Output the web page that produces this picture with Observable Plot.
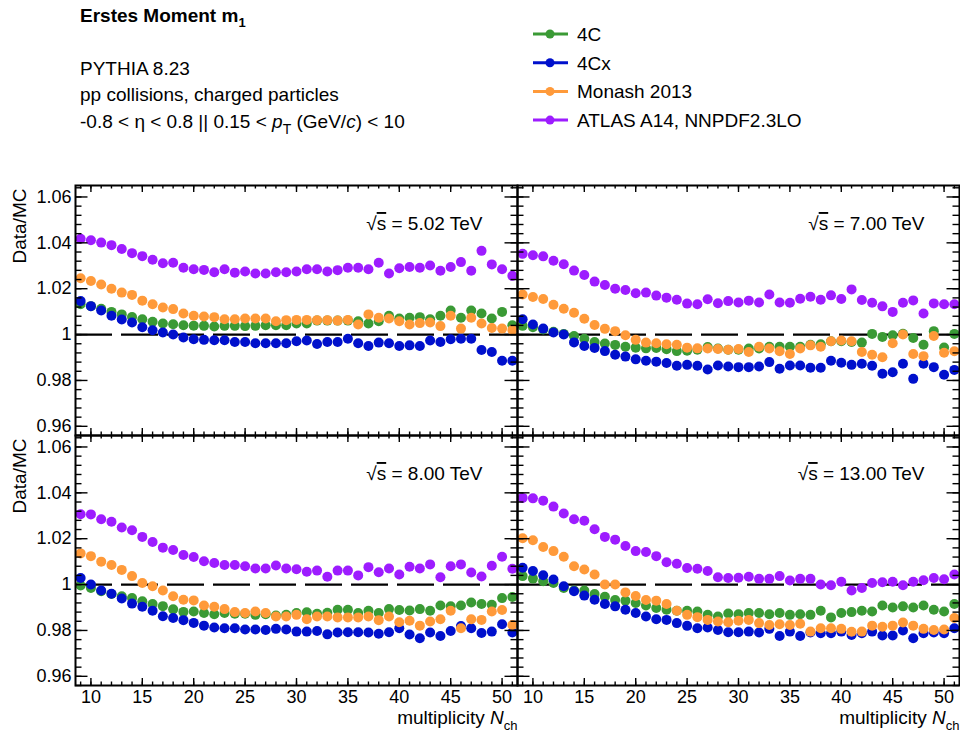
<!DOCTYPE html>
<html><head><meta charset="utf-8">
<script src="https://cdn.jsdelivr.net/npm/d3@7"></script>
<script src="https://cdn.jsdelivr.net/npm/@observablehq/plot@0.6"></script>
<style>
body{margin:0;background:#fff;font-family:"Liberation Sans",Arial,sans-serif;}
#chart{width:960px;height:733px;}
#chart svg{display:block;}
</style></head><body><div id="chart"></div>
<script>
// ---------- data ----------
const nch = [9,10,11,12,13,14,15,16,17,18,19,20,21,22,23,24,25,26,27,28,29,30,31,32,33,34,35,36,37,38,39,40,41,42,43,44,45,46,47,48,49,50,51];
const seriesNames = ["4C", "4Cx", "Monash 2013", "ATLAS A14, NNPDF2.3LO"];
const seriesColors = ["#3a9a35", "#0010cc", "#ff9a3a", "#9d1cff"];
const energies = ["5.02", "7.00", "8.00", "13.00"];
const panelCol = [0, 1, 0, 1];
const panelRow = [0, 0, 1, 1];
const yTickValues = [0.96, 0.98, 1, 1.02, 1.04, 1.06];
const yTickLabels = ["0.96", "0.98", "1", "1.02", "1.04", "1.06"];
const xTickValues = [10, 15, 20, 25, 30, 35, 40, 45, 50];
const xTickLabels = ["10", "15", "20", "25", "30", "35", "40", "45", "50"];

// 5.02 TeV
const v502_4C = [1.0132,1.0124,1.0113,1.0099,1.0088,1.0077,1.0067,1.0056,1.0048,1.0045,1.0041,1.0039,1.0038,1.0035,1.0038,1.0038,1.0037,1.0038,1.0041,1.0041,
  1.0041,1.0048,1.0048,1.0061,1.0061,1.0061,1.0061,1.0058,1.0048,1.0058,1.0082,1.0070,1.0073,1.0076,1.0067,1.0082,1.0105,1.0073,1.0105,1.0092,1.0070,1.0099,1.0041];
const v502_4Cx = [1.0146,1.0124,1.0105,1.0082,1.0066,1.0053,1.0032,1.0019,1.0009,1.0000,0.9987,0.9980,0.9977,0.9975,0.9975,0.9968,0.9968,0.9962,0.9962,0.9962,
  0.9962,0.9971,0.9974,0.9959,0.9968,0.9968,0.9982,0.9962,0.9950,0.9965,0.9962,0.9950,0.9953,0.9950,0.9974,0.9968,0.9980,0.9982,0.9982,0.9933,0.9924,0.9886,0.9886];
const v502_Monash = [1.0246,1.0234,1.0218,1.0200,1.0183,1.0173,1.0148,1.0132,1.0118,1.0111,1.0092,1.0082,1.0079,1.0076,1.0067,1.0067,1.0070,1.0070,1.0070,1.0058,
  1.0063,1.0064,1.0064,1.0063,1.0063,1.0061,1.0064,1.0044,1.0088,1.0073,1.0070,1.0058,1.0044,1.0050,1.0053,1.0037,1.0082,1.0026,1.0073,1.0048,1.0029,1.0026,1.0020];
const v502_A14 = [1.0418,1.0411,1.0401,1.0390,1.0373,1.0355,1.0342,1.0326,1.0311,1.0313,1.0291,1.0285,1.0282,1.0272,1.0285,1.0270,1.0275,1.0266,1.0266,1.0272,
  1.0272,1.0275,1.0285,1.0285,1.0275,1.0281,1.0291,1.0291,1.0285,1.0313,1.0266,1.0289,1.0295,1.0291,1.0301,1.0278,1.0295,1.0316,1.0278,1.0365,1.0306,1.0285,1.0256];

// 7.00 TeV
const v700_4C = [1.0038,1.0032,1.0022,1.0012,1.0003,0.9994,0.9982,0.9968,0.9961,0.9955,0.9947,0.9943,0.9940,0.9942,0.9936,0.9928,0.9930,0.9934,0.9946,0.9939,0.9934,0.9934,0.9939,
  0.9939,0.9947,0.9947,0.9947,0.9947,0.9956,0.9958,0.9971,0.9971,0.9968,0.9965,1.0003,0.9990,0.9997,1.0004,0.9985,0.9956,1.0015,0.9944,1.0003];
const v700_4Cx = [1.0067,1.0044,1.0026,1.0009,1.0000,0.9966,0.9950,0.9942,0.9928,0.9912,0.9904,0.9892,0.9886,0.9882,0.9876,0.9864,0.9868,0.9864,0.9848,0.9865,0.9861,0.9858,0.9858,
  0.9861,0.9880,0.9851,0.9865,0.9865,0.9855,0.9855,0.9886,0.9877,0.9868,0.9873,0.9864,0.9829,0.9836,0.9873,0.9807,0.9873,0.9858,0.9825,0.9846];
const v700_Monash = [1.0175,1.0164,1.0155,1.0130,1.0113,1.0095,1.0069,1.0042,1.0025,1.0015,0.9997,0.9977,0.9965,0.9962,0.9958,0.9956,0.9943,0.9940,0.9939,0.9937,0.9934,0.9937,0.9924,
  0.9947,0.9939,0.9927,0.9915,0.9939,0.9953,0.9947,0.9971,0.9974,0.9971,0.9924,0.9912,0.9901,0.9962,1.0000,0.9915,0.9906,0.9994,0.9921,0.9927];
const v700_A14 = [1.0352,1.0346,1.0341,1.0322,1.0307,1.0279,1.0260,1.0231,1.0216,1.0200,1.0194,1.0180,1.0183,1.0170,1.0161,1.0152,1.0135,1.0132,1.0154,1.0137,1.0146,1.0140,1.0148,
  1.0140,1.0175,1.0140,1.0139,1.0156,1.0165,1.0152,1.0171,1.0155,1.0197,1.0151,1.0139,1.0123,1.0099,1.0139,1.0149,1.0092,1.0136,1.0132,1.0132];

// 8.00 TeV
const v800_4C = [0.9996,0.9985,0.9971,0.9959,0.9949,0.9941,0.9927,0.9915,0.9906,0.9892,0.9881,0.9883,0.9876,0.9871,0.9876,0.9873,0.9873,0.9868,0.9871,0.9865,
  0.9868,0.9876,0.9879,0.9873,0.9877,0.9890,0.9890,0.9876,0.9886,0.9876,0.9893,0.9889,0.9887,0.9893,0.9886,0.9909,0.9905,0.9909,0.9922,0.9915,0.9912,0.9941,0.9946];
const v800_4Cx = [1.0029,1.0000,0.9974,0.9960,0.9939,0.9917,0.9903,0.9886,0.9862,0.9854,0.9845,0.9833,0.9821,0.9813,0.9810,0.9810,0.9804,0.9804,0.9802,0.9807,
  0.9804,0.9795,0.9795,0.9798,0.9783,0.9791,0.9792,0.9792,0.9791,0.9786,0.9792,0.9810,0.9782,0.9766,0.9791,0.9776,0.9798,0.9819,0.9810,0.9789,0.9795,0.9827,0.9791];
const v800_Monash = [1.0136,1.0124,1.0100,1.0085,1.0064,1.0037,1.0007,0.9993,0.9974,0.9949,0.9934,0.9931,0.9909,0.9903,0.9893,0.9880,0.9876,0.9883,0.9876,0.9861,
  0.9861,0.9868,0.9849,0.9861,0.9861,0.9857,0.9857,0.9857,0.9861,0.9845,0.9861,0.9836,0.9842,0.9821,0.9839,0.9849,0.9886,0.9810,0.9849,0.9846,0.9883,0.9889,0.9824];
const v800_A14 = [1.0307,1.0306,1.0285,1.0274,1.0249,1.0237,1.0208,1.0186,1.0161,1.0151,1.0129,1.0120,1.0102,1.0094,1.0085,1.0085,1.0080,1.0070,1.0070,1.0083,
  1.0070,1.0067,1.0056,1.0061,1.0034,1.0061,1.0061,1.0040,1.0076,1.0054,1.0070,1.0044,1.0078,1.0070,1.0088,1.0032,1.0080,1.0088,1.0053,1.0035,1.0082,1.0121,1.0069];

// 13.00 TeV
const v1300_4C = [1.0037,1.0026,1.0015,1.0007,0.9985,0.9974,0.9974,0.9959,0.9947,0.9933,0.9930,0.9920,0.9909,0.9898,0.9890,0.9886,0.9886,0.9883,0.9868,0.9861,0.9874,0.9871,0.9876,
  0.9876,0.9871,0.9876,0.9868,0.9871,0.9868,0.9886,0.9857,0.9876,0.9880,0.9886,0.9883,0.9909,0.9900,0.9905,0.9900,0.9909,0.9890,0.9883,0.9915];
const v1300_4Cx = [1.0073,1.0059,1.0041,1.0022,0.9993,0.9971,0.9952,0.9934,0.9915,0.9905,0.9890,0.9876,0.9861,0.9849,0.9846,0.9832,0.9820,0.9810,0.9813,0.9802,0.9792,0.9792,0.9795,
  0.9791,0.9807,0.9776,0.9795,0.9776,0.9791,0.9788,0.9788,0.9795,0.9780,0.9788,0.9795,0.9778,0.9778,0.9800,0.9766,0.9788,0.9791,0.9788,0.9810];
const v1300_Monash = [1.0202,1.0193,1.0164,1.0146,1.0121,1.0080,1.0066,1.0044,1.0000,1.0000,0.9966,0.9950,0.9933,0.9930,0.9915,0.9886,0.9868,0.9858,0.9846,0.9839,0.9836,0.9842,0.9846,
  0.9832,0.9824,0.9827,0.9824,0.9829,0.9795,0.9810,0.9810,0.9807,0.9794,0.9795,0.9821,0.9816,0.9821,0.9835,0.9821,0.9807,0.9802,0.9804,0.9854];
const v1300_A14 = [1.0378,1.0376,1.0366,1.0340,1.0310,1.0285,1.0278,1.0241,1.0208,1.0196,1.0168,1.0146,1.0142,1.0124,1.0097,1.0091,1.0072,1.0069,1.0059,1.0032,1.0029,1.0030,1.0034,
  1.0025,1.0025,1.0037,1.0018,1.0025,1.0025,1.0000,0.9997,1.0012,0.9974,0.9985,1.0007,1.0010,1.0012,0.9997,1.0012,1.0019,1.0029,1.0023,1.0044];

const panelSeries = {
  "5.02": [v502_4C, v502_4Cx, v502_Monash, v502_A14],
  "7.00": [v700_4C, v700_4Cx, v700_Monash, v700_A14],
  "8.00": [v800_4C, v800_4Cx, v800_Monash, v800_A14],
  "13.00": [v1300_4C, v1300_4Cx, v1300_Monash, v1300_A14]
};

const rows = [];
energies.forEach((e, p) => seriesNames.forEach((s, k) => panelSeries[e][k].forEach((v, i) =>
  rows.push({n: nch[i], v, series: s, col: panelCol[p], row: panelRow[p]}))));
const panels = energies.map((e, p) => ({energy: e, col: panelCol[p], row: panelRow[p]}));

// ---------- header ----------
const FONT = "'Liberation Sans', Arial, sans-serif";
const header = d3.select("#chart").append("svg")
  .attr("width", 960).attr("height", 180).attr("font-family", FONT);
const t1 = header.append("text").attr("x", 80).attr("y", 22).attr("font-size", 19).attr("font-weight", "bold");
t1.append("tspan").text("Erstes Moment m");
t1.append("tspan").attr("dy", 5).attr("font-size", 13).text("1");
header.append("text").attr("x", 80).attr("y", 75).attr("font-size", 19).text("PYTHIA 8.23");
header.append("text").attr("x", 80).attr("y", 101).attr("font-size", 19).text("pp collisions, charged particles");
const t4 = header.append("text").attr("x", 80).attr("y", 128).attr("font-size", 19);
t4.append("tspan").text("-0.8 < \u03b7 < 0.8 || 0.15 < ");
t4.append("tspan").attr("font-style", "italic").text("p");
t4.append("tspan").attr("dy", 6).attr("font-size", 14).text("T");
t4.append("tspan").attr("dy", -6).text(" (GeV/");
t4.append("tspan").attr("font-style", "italic").text("c");
t4.append("tspan").text(") < 10");

seriesNames.forEach((s, i) => {
  const y = 34 + 28.7 * i;
  header.append("line").attr("x1", 533).attr("x2", 568).attr("y1", y).attr("y2", y)
    .attr("stroke", seriesColors[i]).attr("stroke-width", 3);
  header.append("circle").attr("cx", 550).attr("cy", y).attr("r", 4.5).attr("fill", seriesColors[i]);
  header.append("text").attr("x", 577).attr("y", y + 7).attr("font-size", 19).text(s);
});

// ---------- plot ----------
const W = 960, H = 553, mT = 4, mL = 74, mR = 1, mB = 48;
const fw = (W - mL - mR) / 2, fh = (H - mT - mB) / 2;
const yMajor = 13, yMinorLen = 7, xMajor = 7.5, xMinorLen = 4;
const yMinor = d3.range(239, 267).map(k => k * 0.004);
const xMinor = nch;
const tw = 1.4;

const chart = Plot.plot({
  width: W, height: H,
  marginTop: mT, marginLeft: mL, marginRight: mR, marginBottom: mB,
  style: {fontFamily: FONT, fontSize: "18px", background: "white", color: "black", overflow: "visible"},
  x: {domain: [8.5, 51.5]},
  y: {domain: [0.956, 1.065]},
  fx: {domain: [0, 1], padding: 0, axis: null},
  fy: {domain: [0, 1], padding: 0, axis: null},
  color: {domain: seriesNames, range: seriesColors},
  marks: [
    Plot.ruleY([1], {stroke: "black", strokeWidth: 2.2, strokeDasharray: "37,9"}),
    Plot.dot(rows, {x: "n", y: "v", fill: "series", r: 5, fx: "col", fy: "row"}),
    Plot.tickY(yMinor, {y: d => d, insetRight: fw - yMinorLen, strokeWidth: tw}),
    Plot.tickY(yMinor, {y: d => d, insetLeft: fw - yMinorLen, strokeWidth: tw}),
    Plot.tickY(yTickValues, {y: d => d, insetRight: fw - yMajor, strokeWidth: tw}),
    Plot.tickY(yTickValues, {y: d => d, insetLeft: fw - yMajor, strokeWidth: tw}),
    Plot.tickX(xMinor, {x: d => d, insetTop: fh - xMinorLen, strokeWidth: tw}),
    Plot.tickX(xMinor, {x: d => d, insetBottom: fh - xMinorLen, strokeWidth: tw}),
    Plot.tickX(xTickValues, {x: d => d, insetTop: fh - xMajor, strokeWidth: tw}),
    Plot.tickX(xTickValues, {x: d => d, insetBottom: fh - xMajor, strokeWidth: tw}),
    Plot.axisY({ticks: yTickValues, tickFormat: d => yTickLabels[yTickValues.indexOf(d)], tickSize: 0, tickPadding: 4, label: null, fontSize: 18}),
    Plot.axisX({ticks: xTickValues, tickFormat: d => xTickLabels[xTickValues.indexOf(d)], tickSize: 0, tickPadding: 5, label: null, fontSize: 18}),
    Plot.frame({stroke: "black", strokeWidth: 2}),
    Plot.text(panels, {fx: "col", fy: "row", text: d => `\u221as = ${d.energy} TeV`, frameAnchor: "top-right",
      textAnchor: "end", dx: -35, dy: 31, fontSize: 19}),
    Plot.text(panels.filter(d => d.col === 0), {fx: "col", fy: "row", text: () => "Data/MC", frameAnchor: "top-left",
      rotate: -90, textAnchor: "end", dx: -63, dy: 3, fontSize: 19}),
    Plot.text(panels.filter(d => d.row === 1), {fx: "col", fy: "row", text: () => "multiplicity N", frameAnchor: "bottom-right",
      textAnchor: "end", lineAnchor: "bottom", dy: 38, fontSize: 19})
  ]
});
document.getElementById("chart").appendChild(chart);

// rich text touches (subscript, italic, overline)
d3.select(chart).selectAll("text").each(function() {
  const s = this.textContent;
  const t = d3.select(this);
  if (s === "multiplicity N") {
    t.text(null);
    t.append("tspan").text("multiplicity ");
    t.append("tspan").attr("font-style", "italic").text("N");
    t.append("tspan").attr("font-size", 13).attr("dy", 6).text("ch");
  } else if (s.startsWith("\u221as")) {
    const rest = s.slice(2);
    t.text(null);
    t.append("tspan").text("\u221a");
    t.append("tspan").style("text-decoration", "overline").text("s");
    t.append("tspan").text(rest);
  }
});
</script></body></html>
